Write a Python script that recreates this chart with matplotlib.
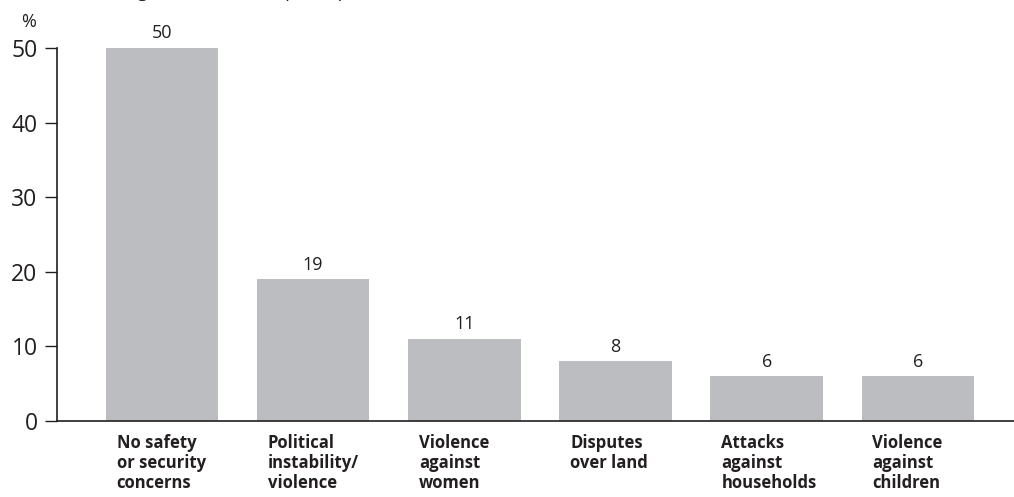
import matplotlib
matplotlib.use('Agg')
import matplotlib.pyplot as plt
import numpy as np

categories = [
    'No safety\nor security\nconcerns',
    'Political\ninstability/\nviolence',
    'Violence\nagainst\nwomen',
    'Disputes\nover land',
    'Attacks\nagainst\nhouseholds',
    'Violence\nagainst\nchildren',
]
values = [50, 19, 11, 8, 6, 6]
yticks = [0, 10, 20, 30, 40, 50]
subtitle = '(Percentage of all research participants) (base = 1,336)'

bar_color = '#bcbdc1'
text_color = '#231f20'

plt.rcParams['font.family'] = ['Open Sans', 'DejaVu Sans']

fig = plt.figure(figsize=(10.14, 4.97), dpi=100)
ax = fig.add_axes([57 / 1014, 76 / 497, 1 - 57 / 1014, 373 / 497])

x = np.arange(len(values))
width = 0.745
ax.bar(x, values, width=width, color=bar_color, zorder=2)

for xi, v in zip(x, values):
    ax.annotate(str(v), (xi, v), xytext=(0, 4), textcoords='offset points',
                ha='center', va='bottom', fontsize=13, color=text_color)

ax.set_xlim(-0.694, 5.636)
ax.set_ylim(0, 50)
ax.set_yticks(yticks)
ax.set_yticklabels([str(t) for t in yticks], fontsize=16.5, color=text_color)
ax.tick_params(axis='y', length=9, width=1, color=text_color, pad=5)
ax.set_xticks([])

for side in ['top', 'right']:
    ax.spines[side].set_visible(False)
for side in ['left', 'bottom']:
    ax.spines[side].set_color(text_color)
    ax.spines[side].set_linewidth(1.2)

# category labels sit left-aligned under each bar
for xi, label in zip(x, categories):
    ax.annotate(label, (xi - 0.30, 0), xytext=(0, -9), textcoords='offset points',
                ha='left', va='top', fontsize=12, fontweight='bold',
                color=text_color, linespacing=1.15, annotation_clip=False)

fig.text(21 / 1014, 1 - 27 / 497, '%', fontsize=13, color=text_color, va='baseline')
# subtitle runs off the top edge of the figure
fig.text(58 / 1014, 1 + 2.5 / 497, subtitle,
         fontsize=13, color=text_color, va='baseline')

fig.savefig('out.png', dpi=100)
